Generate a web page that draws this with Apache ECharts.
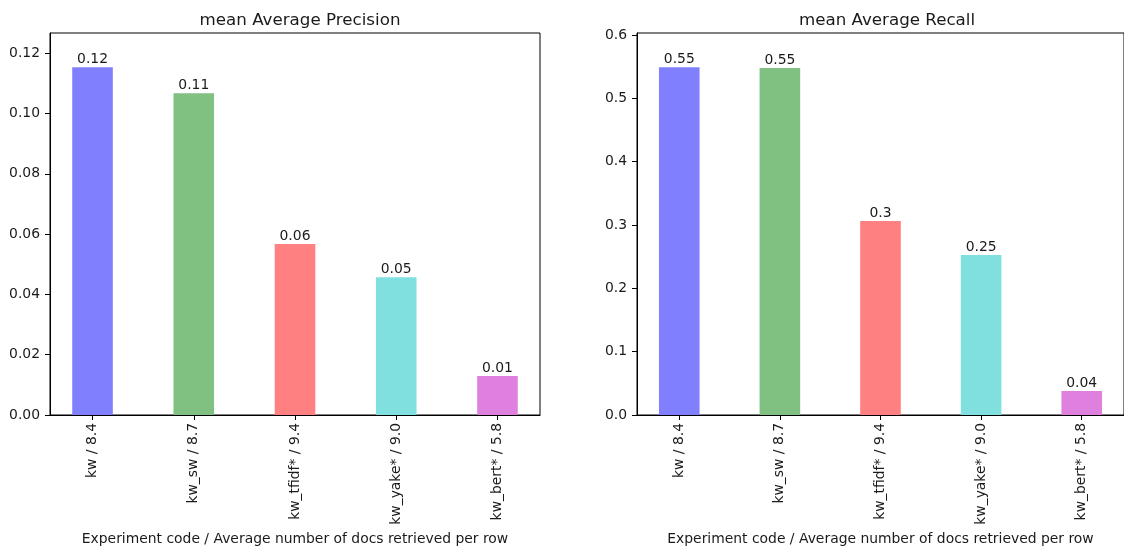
<!DOCTYPE html>
<html>
<head>
<meta charset="utf-8">
<script src="https://cdn.jsdelivr.net/npm/echarts@6/dist/echarts.min.js"></script>
<style>
  html, body { margin: 0; padding: 0; background: #fff; }
  #chart { width: 1124px; height: 552px; }
</style>
</head>
<body>
<div id="chart"></div>
<script>
// experiment codes (x axis)
const categories = ['kw / 8.4', 'kw_sw / 8.7', 'kw_tfidf* / 9.4', 'kw_yake* / 9.0', 'kw_bert* / 5.8'];
const catPos = [0, 1, 2, 3, 4];
// mean Average Precision
const precision = [0.1153, 0.1067, 0.0567, 0.0457, 0.0129];
const precisionLabels = ['0.12', '0.11', '0.06', '0.05', '0.01'];
const precisionTicks = [0, 0.02, 0.04, 0.06, 0.08, 0.10, 0.12];
// mean Average Recall
const recall = [0.549, 0.548, 0.3065, 0.2528, 0.0379];
const recallLabels = ['0.55', '0.55', '0.3', '0.25', '0.04'];
const recallTicks = [0, 0.1, 0.2, 0.3, 0.4, 0.5, 0.6];

const barColors = ['#8080ff', '#80c080', '#ff8080', '#80dfdf', '#df80df'];
const font = 'DejaVu Sans';
const txt = '#1a1a1a';
const fs = 13.9;

function xAxisFor(gridIndex) {
    return {
        type: 'value',
        gridIndex: gridIndex,
        min: -0.42,
        max: 4.42,
        splitLine: { show: false },
        axisLine: { show: true, onZero: false, lineStyle: { color: '#000', width: 1 } },
        axisTick: { show: true, customValues: catPos, length: 5, lineStyle: { color: '#000' } },
        axisLabel: {
            customValues: catPos,
            rotate: 90,
            margin: 8,
            color: txt,
            fontFamily: font,
            fontSize: fs,
            formatter: v => categories[Math.round(v)]
        },
        name: 'Experiment code / Average number of docs retrieved per row',
        nameLocation: 'middle',
        nameGap: 116,
        nameTextStyle: { color: txt, fontFamily: font, fontSize: fs }
    };
}

function yAxisFor(gridIndex, max, ticks, digits) {
    return {
        type: 'value',
        gridIndex: gridIndex,
        min: 0,
        max: max,
        splitLine: { show: false },
        axisLine: { show: true, onZero: false, lineStyle: { color: '#000', width: 1 } },
        axisTick: { show: true, customValues: ticks, length: 5, lineStyle: { color: '#000' } },
        axisLabel: {
            customValues: ticks,
            margin: 10,
            color: txt,
            fontFamily: font,
            fontSize: fs,
            formatter: v => v.toFixed(digits)
        }
    };
}

function barSeries(idx, values, labels) {
    return {
        type: 'bar',
        xAxisIndex: idx,
        yAxisIndex: idx,
        barWidth: 40.6,
        data: values.map((v, i) => [catPos[i], v]),
        itemStyle: { color: p => barColors[p.dataIndex] },
        label: {
            show: true,
            position: 'top',
            distance: 1,
            color: txt,
            fontFamily: font,
            fontSize: fs,
            formatter: p => labels[p.dataIndex]
        },
        emphasis: { disabled: true },
        animation: false
    };
}

const chart = echarts.init(document.getElementById('chart'));
chart.setOption({
    backgroundColor: '#fff',
    animation: false,
    title: [
        { text: 'mean Average Precision', left: 295, top: 7, textAlign: 'center',
          textStyle: { color: txt, fontFamily: font, fontSize: 16.7, fontWeight: 'normal' } },
        { text: 'mean Average Recall', left: 882, top: 7, textAlign: 'center',
          textStyle: { color: txt, fontFamily: font, fontSize: 16.7, fontWeight: 'normal' } }
    ],
    grid: [
        { left: 50, top: 33, width: 490, height: 382, show: true, borderColor: '#000', borderWidth: 1 },
        { left: 637, top: 33, width: 491, height: 382, show: true, borderColor: '#000', borderWidth: 1 }
    ],
    xAxis: [xAxisFor(0), xAxisFor(1)],
    yAxis: [
        yAxisFor(0, 0.1267, precisionTicks, 2),
        yAxisFor(1, 0.6032, recallTicks, 1)
    ],
    series: [
        barSeries(0, precision, precisionLabels),
        barSeries(1, recall, recallLabels)
    ]
});
</script>
</body>
</html>
